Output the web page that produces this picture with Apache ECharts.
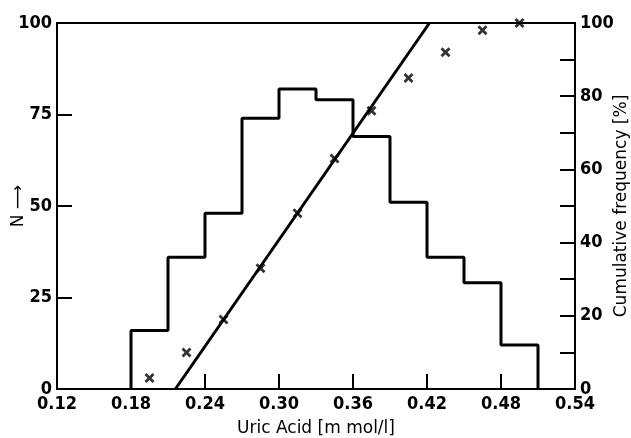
<!DOCTYPE html>
<html>
<head>
<meta charset="utf-8">
<title>uric-acid-histogram</title>
<script src="https://cdn.jsdelivr.net/npm/echarts@6/dist/echarts.min.js"></script>
<style>
  html, body { margin: 0; padding: 0; background: #fff; }
  #chart { width: 631px; height: 438px; }
</style>
</head>
<body>
<div id="chart"></div>
<script>
// histogram bins (lower edge, width 0.03) and counts N
var binStart = [0.18, 0.21, 0.24, 0.27, 0.30, 0.33, 0.36, 0.39, 0.42, 0.45, 0.48];
var binWidth = 0.03;
var counts = [16, 36, 48, 74, 82, 79, 69, 51, 36, 29, 12];

// cumulative frequency points (bin midpoints, %)
var cumX = [0.195, 0.225, 0.255, 0.285, 0.315, 0.345, 0.375, 0.405, 0.435, 0.465, 0.495];
var cumY = [3, 10, 19, 33, 48, 63, 76, 85, 92, 98, 100];

// fitted straight line (end points)
var fitX = [0.216, 0.422];
var fitY = [0, 100];

var font = '"Liberation Sans Narrow", "DejaVu Sans Condensed"';
var nameFont = 'DejaVu Sans';

// outline of the histogram
var outline = [[binStart[0], 0]];
binStart.forEach(function (x, i) {
  outline.push([x, counts[i]]);
  outline.push([x + binWidth, counts[i]]);
});
outline.push([binStart[binStart.length - 1] + binWidth, 0]);

var cross = 'path://M0,2L2,0L5,3L8,0L10,2L7,5L10,8L8,10L5,7L2,10L0,8L3,5Z';

var labelStyle = { fontFamily: font, fontSize: 18, fontWeight: 'bold', color: '#000' };
var nameStyle = { fontFamily: nameFont, fontSize: 17, color: '#000' };
var tickStyle = { inside: true, length: 15, lineStyle: { color: '#000', width: 2 } };
var lineAxis = { lineStyle: { color: '#000', width: 2 } };

var myChart = echarts.init(document.getElementById('chart'));
var option = {
  animation: false,
  backgroundColor: '#fff',
  grid: {
    left: 57, right: 56, top: 23, bottom: 49,
    outerBoundsMode: 'none',
    containLabel: false,
    show: true, borderColor: '#000', borderWidth: 2
  },
  xAxis: {
    type: 'value',
    min: 0.12, max: 0.54, interval: 0.06,
    name: 'Uric Acid [m mol/l]',
    nameLocation: 'middle',
    nameMoveOverlap: false,
    nameGap: 31,
    nameTextStyle: nameStyle,
    axisLine: lineAxis,
    axisTick: tickStyle,
    axisLabel: Object.assign({ margin: 6, formatter: function (v) { return v.toFixed(2); } }, labelStyle),
    splitLine: { show: false }
  },
  yAxis: [{
    type: 'value',
    min: 0, max: 100, interval: 25,
    name: 'N ⟶',
    nameLocation: 'middle',
    nameRotate: 90,
    nameMoveOverlap: false,
    nameGap: 30,
    nameTextStyle: nameStyle,
    axisLine: lineAxis,
    axisTick: tickStyle,
    axisLabel: Object.assign({ margin: 5 }, labelStyle),
    splitLine: { show: false }
  }, {
    type: 'value',
    position: 'right',
    min: 0, max: 100, interval: 10,
    name: 'Cumulative frequency [%]',
    nameLocation: 'middle',
    nameRotate: 90,
    nameMoveOverlap: false,
    nameGap: 38,
    nameTextStyle: nameStyle,
    axisLine: lineAxis,
    axisTick: tickStyle,
    axisLabel: Object.assign({ margin: 5, formatter: function (v) { return v % 20 === 0 ? String(v) : ''; } }, labelStyle),
    splitLine: { show: false }
  }],
  series: [{
    type: 'line',
    data: outline,
    showSymbol: false,
    lineStyle: { color: '#000', width: 3 },
    z: 3
  }, {
    type: 'line',
    yAxisIndex: 1,
    data: fitX.map(function (x, i) { return [x, fitY[i]]; }),
    showSymbol: false,
    lineStyle: { color: '#000', width: 3 },
    z: 4
  }, {
    type: 'scatter',
    yAxisIndex: 1,
    data: cumX.map(function (x, i) { return [x, cumY[i]]; }),
    symbol: cross,
    symbolSize: 10,
    itemStyle: { color: '#000' },
    z: 5
  }]
};
myChart.setOption(option);
</script>
</body>
</html>
